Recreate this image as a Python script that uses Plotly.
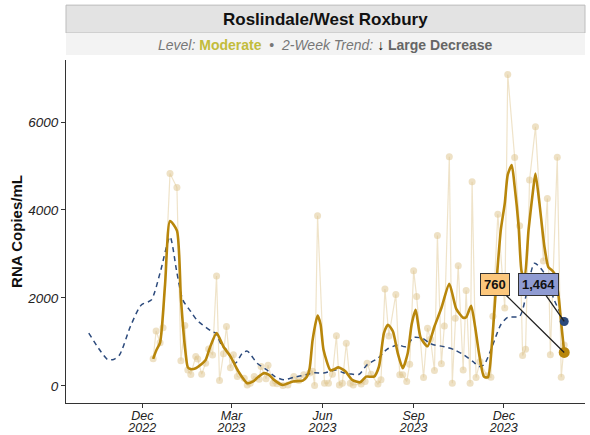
import plotly.graph_objects as go

# ---------------- data ----------------
raw_dates = [
    "2022-12-12", "2022-12-15", "2022-12-19", "2022-12-22", "2022-12-29",
    "2023-01-05", "2023-01-09", "2023-01-13", "2023-01-16", "2023-01-19",
    "2023-01-24", "2023-01-26", "2023-01-30", "2023-02-03", "2023-02-06",
    "2023-02-10", "2023-02-14", "2023-02-17", "2023-02-21", "2023-02-24",
    "2023-02-28", "2023-03-03", "2023-03-07", "2023-03-14", "2023-03-17",
    "2023-03-20", "2023-03-24", "2023-03-29", "2023-03-31", "2023-04-05",
    "2023-04-07", "2023-04-12", "2023-04-16", "2023-04-22", "2023-04-27",
    "2023-05-03", "2023-05-08", "2023-05-13", "2023-05-19", "2023-05-22",
    "2023-05-24", "2023-05-27", "2023-06-03", "2023-06-07", "2023-06-11",
    "2023-06-15", "2023-06-18", "2023-06-21", "2023-06-25", "2023-06-29",
    "2023-07-02", "2023-07-10", "2023-07-14", "2023-07-16", "2023-07-20",
    "2023-07-27", "2023-07-30", "2023-08-03", "2023-08-07", "2023-08-14",
    "2023-08-18", "2023-08-21", "2023-08-25", "2023-08-28", "2023-09-01",
    "2023-09-04", "2023-09-11", "2023-09-15", "2023-09-18", "2023-09-22",
    "2023-09-25", "2023-09-29", "2023-10-02", "2023-10-07", "2023-10-10",
    "2023-10-13", "2023-10-16", "2023-10-21", "2023-10-24", "2023-10-28",
    "2023-10-30", "2023-11-03", "2023-11-07", "2023-11-14", "2023-11-18",
    "2023-11-20", "2023-11-25", "2023-12-02", "2023-12-05", "2023-12-12",
    "2023-12-17", "2023-12-20", "2023-12-23", "2023-12-27", "2024-01-02",
    "2024-01-10", "2024-01-14", "2024-01-17", "2024-01-24", "2024-01-28",
    "2024-01-31",
]
raw_values = [
    614, 1250, 980, 1320, 4830,
    4510, 570, 1370, 360, 260,
    670, 610, 265, 515, 840,
    700, 2500, 120, 730, 1350,
    410, 710, 210, 170, 20,
    60, 210, 150, 440, 160,
    470, 60, 45, 10, 20,
    210, 120, 250, 290, 330,
    10, 3870, 60, 60, 265,
    1140, 20, 60, 970, 60,
    20, 40, 100, 515, 265,
    40, 136, 2200, 1135, 2080,
    250, 250, 100, 490, 2620,
    2030, 190, 1310, 1060, 350,
    3420, 500, 1360, 5210, 60,
    1540, 2730, 360, 2170, 60,
    4640, 190, 550, 230, 195,
    1580, 3900, 1770, 7080, 5190,
    3640, 690, 830, 4680, 5890,
    2840, 4260, 710, 5200, 195,
    930,
]

smooth_dates = [
    "2022-12-12", "2022-12-15", "2022-12-19", "2022-12-24", "2022-12-29",
    "2023-01-05", "2023-01-09", "2023-01-13", "2023-01-16", "2023-01-19",
    "2023-01-24", "2023-01-29", "2023-02-03", "2023-02-07", "2023-02-14",
    "2023-02-21", "2023-02-28", "2023-03-08", "2023-03-17", "2023-03-23",
    "2023-03-28", "2023-04-03", "2023-04-08", "2023-04-13", "2023-04-22",
    "2023-05-02", "2023-05-12", "2023-05-16", "2023-05-19", "2023-05-22",
    "2023-05-27", "2023-05-30", "2023-06-02", "2023-06-09", "2023-06-13",
    "2023-06-17", "2023-06-24", "2023-07-01", "2023-07-09", "2023-07-15",
    "2023-07-23", "2023-07-28", "2023-08-02", "2023-08-06", "2023-08-11",
    "2023-08-16", "2023-08-21", "2023-08-26", "2023-08-30", "2023-09-03",
    "2023-09-08", "2023-09-15", "2023-09-22", "2023-09-29", "2023-10-07",
    "2023-10-14", "2023-10-21", "2023-10-24", "2023-10-29", "2023-11-02",
    "2023-11-06", "2023-11-11", "2023-11-15", "2023-11-19", "2023-11-23",
    "2023-11-28", "2023-12-02", "2023-12-05", "2023-12-09", "2023-12-12",
    "2023-12-16", "2023-12-19", "2023-12-22", "2023-12-26", "2023-12-31",
    "2024-01-02", "2024-01-06", "2024-01-11", "2024-01-15", "2024-01-18",
    "2024-01-21", "2024-01-25", "2024-01-28", "2024-01-31",
]
smooth_values = [
    614, 800, 985, 2300, 3750,
    3530, 2000, 900, 420, 380,
    400, 477, 590, 850, 1200,
    890, 670, 330, 60, 100,
    200, 290, 250, 136, 20,
    100, 120, 200, 400, 1045,
    1600, 1400, 820, 350, 380,
    420, 330, 136, 80, 210,
    210, 440, 1200, 1390, 1240,
    740, 400, 740, 1400, 1730,
    1100, 900, 1350, 1770, 2320,
    1750, 1550, 1560, 1820, 1350,
    740, 210, 195, 950, 2180,
    3545, 4150, 4800, 5020, 4530,
    3620, 2600, 2450, 3540, 4530,
    4830, 4150, 3170, 2700, 2640,
    2560, 2100, 1420, 760,
]

prior_dates = [
    "2022-10-08", "2022-10-18", "2022-10-27", "2022-11-02", "2022-11-08",
    "2022-11-19", "2022-11-30", "2022-12-10", "2022-12-19", "2022-12-29",
    "2023-01-05", "2023-01-11", "2023-01-19", "2023-01-25", "2023-01-29",
    "2023-02-09", "2023-02-13", "2023-02-19", "2023-02-24", "2023-03-05",
    "2023-03-12", "2023-03-17", "2023-03-27", "2023-04-06", "2023-04-14",
    "2023-04-23", "2023-05-03", "2023-05-15", "2023-05-24", "2023-06-02",
    "2023-06-14", "2023-06-22", "2023-06-29", "2023-07-08", "2023-07-16",
    "2023-07-27", "2023-08-05", "2023-08-16", "2023-08-24", "2023-09-01",
    "2023-09-10", "2023-09-17", "2023-09-22", "2023-10-02", "2023-10-12",
    "2023-10-22", "2023-10-31", "2023-11-06", "2023-11-11", "2023-11-18",
    "2023-11-23", "2023-11-28", "2023-12-05", "2023-12-17", "2023-12-24",
    "2024-01-01", "2024-01-11", "2024-01-21", "2024-01-31",
]
prior_values = [
    1200, 850, 600, 600, 700,
    1350, 1840, 1950, 2570, 3390,
    2570, 1950, 1690, 1500, 1420,
    1240, 1200, 930, 820, 515,
    740, 790, 515, 360, 210,
    136, 195, 250, 300, 290,
    360, 300, 270, 265, 480,
    630, 830, 930, 890, 1100,
    1080, 970, 930, 890, 820,
    700, 550, 440, 480, 820,
    1120, 1390, 1560, 1580, 2100,
    2790, 2560, 1950, 1464,
]

y_tick_vals = [0, 2000, 4000, 6000]
y_tick_text = ["0", "2000", "4000", "6000"]
x_tick_vals = ["2022-12-01", "2023-03-01", "2023-06-01", "2023-09-01", "2023-12-01"]
x_tick_months = ["Dec", "Mar", "Jun", "Sep", "Dec"]
x_tick_years = ["2022", "2023", "2023", "2023", "2023"]

title_text = "Roslindale/West Roxbury"
level_text = "Moderate"
trend_text = "Large Decrease"
last_smooth_label = "760"
last_prior_label = "1,464"

# ---------------- styles ----------------
GOLD = "#b8860b"
NAVY = "#2c4a7c"
FONT = "Liberation Sans, Arial, Helvetica, sans-serif"
X_RANGE = ["2022-09-15", "2024-02-21"]

fig = go.Figure()

fig.add_trace(go.Scatter(
    x=raw_dates, y=raw_values, mode="lines+markers",
    line=dict(color="rgba(226,204,156,0.55)", width=1.2),
    marker=dict(color="rgba(222,196,140,0.5)", size=7),
    hoverinfo="skip", showlegend=False,
))

fig.add_trace(go.Scatter(
    x=prior_dates, y=prior_values, mode="lines",
    line=dict(color=NAVY, width=1.5, dash="5px,4px", shape="spline", smoothing=0.7),
    showlegend=False,
))

fig.add_trace(go.Scatter(
    x=smooth_dates, y=smooth_values, mode="lines",
    line=dict(color=GOLD, width=2.6, shape="spline", smoothing=0.6),
    showlegend=False,
))

fig.add_trace(go.Scatter(
    x=[prior_dates[-1]], y=[prior_values[-1]], mode="markers",
    marker=dict(color=NAVY, size=9), showlegend=False,
))
fig.add_trace(go.Scatter(
    x=[smooth_dates[-1]], y=[smooth_values[-1]], mode="markers",
    marker=dict(color=GOLD, size=11), showlegend=False,
))

# invisible traces to carry the month / year label axes
for ax_name in ("x2", "x3"):
    fig.add_trace(go.Scatter(
        x=[smooth_dates[-1]], y=[smooth_values[-1]], xaxis=ax_name, mode="markers",
        marker=dict(opacity=0), hoverinfo="skip", showlegend=False,
    ))

fig.add_annotation(
    x=smooth_dates[-1], y=smooth_values[-1],
    text="<b>" + last_smooth_label + "</b>",
    showarrow=True, arrowhead=0, arrowwidth=1.3, arrowcolor="#222",
    ax=-69, ay=-68, standoff=0,
    bgcolor="#fcc77c", bordercolor="#333", borderwidth=1, borderpad=3,
    font=dict(family=FONT, size=13, color="#111"),
)
fig.add_annotation(
    x=prior_dates[-1], y=prior_values[-1],
    text="<b>" + last_prior_label + "</b>",
    showarrow=True, arrowhead=0, arrowwidth=1.3, arrowcolor="#222",
    ax=-26, ay=-37, standoff=0,
    bgcolor="#8f9bd2", bordercolor="#333", borderwidth=1, borderpad=3,
    font=dict(family=FONT, size=13, color="#111"),
)

# Title strip
fig.add_shape(type="rect", xref="paper", yref="paper",
              x0=0, x1=1, y0=1.0787, y1=1.160,
              fillcolor="#e3e3e3", line=dict(color="#bdbdbd", width=1), layer="below")
fig.add_shape(type="rect", xref="paper", yref="paper",
              x0=0, x1=1, y0=1.0146, y1=1.0787,
              fillcolor="#f3f3f3", line=dict(width=0), layer="below")
fig.add_annotation(
    xref="paper", yref="paper", x=0.5, y=1.119, showarrow=False,
    text="<b>" + title_text + "</b>",
    font=dict(family=FONT, size=17, color="#111"), xanchor="center", yanchor="middle",
)
fig.add_annotation(
    xref="paper", yref="paper", x=0.5, y=1.045, showarrow=False,
    text=("<i><span style='color:#777'>Level: </span></i>"
          "<b><span style='color:#c2bc3c'>" + level_text + "</span></b>"
          "<span style='color:#777'>  •  </span>"
          "<i><span style='color:#777'>2-Week Trend: </span></i>"
          "<b><span style='color:#000'>↓</span></b>"
          "<b><span style='color:#666'> " + trend_text + "</span></b>"),
    font=dict(family=FONT, size=14, color="#777"), xanchor="center", yanchor="middle",
)

tick_font = dict(family=FONT, size=12.5, color="#222", style="italic")

fig.update_layout(
    width=590, height=435,
    margin=dict(l=66, r=5, t=60, b=32),
    paper_bgcolor="white", plot_bgcolor="white",
    font=dict(family=FONT),
    showlegend=False,
    xaxis=dict(
        range=X_RANGE, automargin=False,
        tickvals=x_tick_vals, showticklabels=False,
        showgrid=False, zeroline=False,
        showline=True, linecolor="#333", linewidth=1.2,
        ticks="outside", ticklen=4, tickcolor="#333",
    ),
    xaxis2=dict(
        range=X_RANGE, automargin=False, overlaying="x", side="bottom",
        tickvals=x_tick_vals, ticktext=x_tick_months,
        showgrid=False, zeroline=False, showline=False,
        ticks="outside", ticklen=1, tickcolor="rgba(0,0,0,0)",
        tickfont=tick_font,
    ),
    xaxis3=dict(
        range=X_RANGE, automargin=False, overlaying="x", side="bottom",
        tickvals=x_tick_vals, ticktext=x_tick_years,
        showgrid=False, zeroline=False, showline=False,
        ticks="outside", ticklen=13, tickcolor="rgba(0,0,0,0)",
        tickfont=tick_font,
    ),
    yaxis=dict(
        range=[-390, 7410], automargin=False,
        tickvals=y_tick_vals, ticktext=y_tick_text,
        showgrid=False, zeroline=False,
        showline=True, linecolor="#333", linewidth=1.2,
        ticks="outside", ticklen=4, tickcolor="#333",
        tickfont=dict(family=FONT, size=13.5, color="#222", style="italic"),
        title=dict(text="<b>RNA Copies/mL</b>", standoff=0,
                   font=dict(family=FONT, size=15, color="#111")),
    ),
)

fig.write_html(
    "out.html",
    config={"displayModeBar": False},
    post_script="document.body.style.margin='0';document.body.style.overflow='hidden';",
)
